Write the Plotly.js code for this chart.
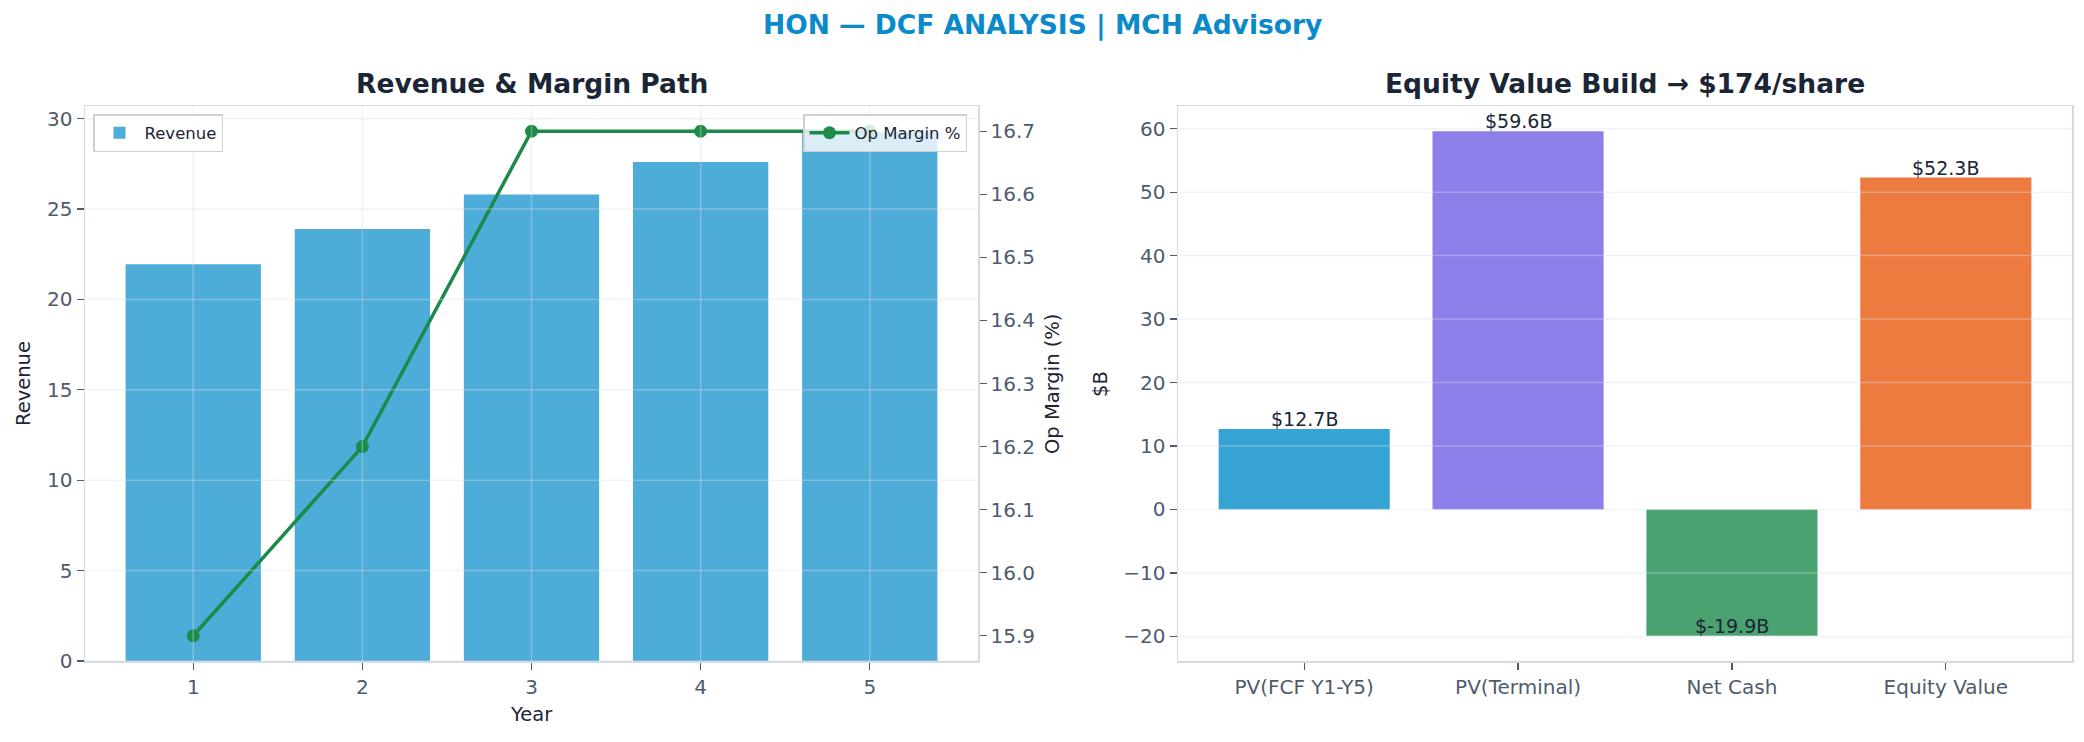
<!DOCTYPE html>
<html>
<head>
<meta charset="utf-8">
<script src="https://cdn.plot.ly/plotly-3.0.1.min.js"></script>
<style>
  html, body { margin: 0; padding: 0; background: #ffffff; }
  #chart { width: 2084px; height: 742px; }
</style>
</head>
<body>
<div id="chart"></div>
<script>
// revenue path (left panel)
var years = [1, 2, 3, 4, 5];
var revenue = [21.95, 23.9, 25.8, 27.6, 29.25];
var opMargin = [15.9, 16.2, 16.7, 16.7, 16.7];

// equity bridge (right panel)
var buildLabels = ['PV(FCF Y1-Y5)', 'PV(Terminal)', 'Net Cash', 'Equity Value'];
var buildValues = [12.7, 59.6, -19.9, 52.3];
var buildColors = ['#35a4d4', '#8b7fea', '#4aa270', '#ed7b40'];

var revTicks = [0, 5, 10, 15, 20, 25, 30];
var marginTicks = [15.9, 16.0, 16.1, 16.2, 16.3, 16.4, 16.5, 16.6, 16.7];
var buildTicks = [-20, -10, 0, 10, 20, 30, 40, 50, 60];

var tickColor = '#4f5b6d';
var spineColor = '#d3dbe4';
var darkText = '#1a2535';
var gridColor = 'rgba(215,222,230,0.38)';

var W = 2084, H = 742;
function px(x) { return x / W; }
function py(y) { return 1 - y / H; }

var leftDom = [px(85), px(978)];
var rightDom = [px(1178), px(2072)];
var yDom = [py(661), py(106)];

var revTrace = {
	type: 'bar',
	x: years,
	y: revenue,
	name: 'Revenue',
	width: 0.8,
	marker: { color: '#4dacd8', line: { width: 0 } },
	xaxis: 'x',
	yaxis: 'y',
	legend: 'legend'
};

var marginTrace = {
	type: 'scatter',
	mode: 'lines+markers',
	x: years,
	y: opMargin,
	name: 'Op Margin %',
	line: { color: '#1c8a4a', width: 3.5 },
	marker: { color: '#1c8a4a', size: 13 },
	xaxis: 'x',
	yaxis: 'y2',
	legend: 'legend2'
};

var buildTrace = {
	type: 'bar',
	x: buildLabels.map(function (d, i) { return i; }),
	y: buildValues,
	width: 0.8,
	marker: { color: buildColors, line: { width: 0 } },
	xaxis: 'x2',
	yaxis: 'y3',
	showlegend: false
};

var tickFont = { family: 'DejaVu Sans', size: 20, color: tickColor };

var commonAxis = {
	showline: true,
	linecolor: spineColor,
	linewidth: 1.5,
	mirror: true,
	ticks: 'outside',
	ticklen: 7,
	tickwidth: 1.3,
	tickcolor: tickColor,
	showgrid: false,
	zeroline: false,
	tickfont: tickFont,
	fixedrange: true
};

function axis(extra) {
	return Object.assign({}, commonAxis, extra);
}

// grid lines drawn over the bars, like the reference
var shapes = [];
years.forEach(function (v) {
	shapes.push({ type: 'line', xref: 'x', yref: 'y domain', x0: v, x1: v, y0: 0, y1: 1,
		line: { color: gridColor, width: 1.5 }, layer: 'above' });
});
revTicks.forEach(function (v) {
	shapes.push({ type: 'line', xref: 'x domain', yref: 'y', x0: 0, x1: 1, y0: v, y1: v,
		line: { color: gridColor, width: 1.5 }, layer: 'above' });
});
buildTicks.forEach(function (v) {
	shapes.push({ type: 'line', xref: 'x2 domain', yref: 'y3', x0: 0, x1: 1, y0: v, y1: v,
		line: { color: gridColor, width: 1.5 }, layer: 'above' });
});

var annotations = [
	{ text: '<b>HON — DCF ANALYSIS | MCH Advisory</b>', xref: 'paper', yref: 'paper',
		x: 0.5, y: py(25), xanchor: 'center', yanchor: 'middle', showarrow: false,
		font: { family: 'DejaVu Sans', size: 26.5, color: '#0b8ac9' } },
	{ text: '<b>Revenue & Margin Path</b>', xref: 'paper', yref: 'paper',
		x: (leftDom[0] + leftDom[1]) / 2, y: py(83), xanchor: 'center', yanchor: 'middle', showarrow: false,
		font: { family: 'DejaVu Sans', size: 26.5, color: darkText } },
	{ text: '<b>Equity Value Build → $174/share</b>', xref: 'paper', yref: 'paper',
		x: (rightDom[0] + rightDom[1]) / 2, y: py(83), xanchor: 'center', yanchor: 'middle', showarrow: false,
		font: { family: 'DejaVu Sans', size: 26.5, color: darkText } },
	{ text: 'Year', xref: 'paper', yref: 'paper', x: (leftDom[0] + leftDom[1]) / 2, y: py(714),
		xanchor: 'center', yanchor: 'middle', showarrow: false,
		font: { family: 'DejaVu Sans', size: 19.5, color: darkText } },
	{ text: 'Revenue', xref: 'paper', yref: 'paper', x: px(23), y: py(384), textangle: -90,
		xanchor: 'center', yanchor: 'middle', showarrow: false,
		font: { family: 'DejaVu Sans', size: 19.5, color: darkText } },
	{ text: 'Op Margin (%)', xref: 'paper', yref: 'paper', x: px(1052), y: py(384), textangle: -90,
		xanchor: 'center', yanchor: 'middle', showarrow: false,
		font: { family: 'DejaVu Sans', size: 19.5, color: darkText } },
	{ text: '$B', xref: 'paper', yref: 'paper', x: px(1100), y: py(384), textangle: -90,
		xanchor: 'center', yanchor: 'middle', showarrow: false,
		font: { family: 'DejaVu Sans', size: 19.5, color: darkText } }
];

buildValues.forEach(function (v, i) {
	annotations.push({
		text: '$' + v.toFixed(1) + 'B', xref: 'x2', yref: 'y3', x: i, y: v,
		xanchor: 'center', yanchor: 'bottom', showarrow: false, yshift: -3,
		font: { family: 'DejaVu Sans', size: 19, color: darkText }
	});
});

var legendStyle = {
	bgcolor: 'rgba(255,255,255,0.8)',
	bordercolor: '#cfcfcf',
	borderwidth: 1.5,
	font: { family: 'DejaVu Sans', size: 16.5, color: darkText },
	xref: 'paper',
	yref: 'paper',
	yanchor: 'top',
	itemwidth: 40,
	tracegroupgap: 0
};

var layout = {
	width: W,
	height: H,
	margin: { l: 0, r: 0, t: 0, b: 0 },
	paper_bgcolor: '#ffffff',
	plot_bgcolor: '#ffffff',
	bargap: 0.2,
	hovermode: false,
	font: { family: 'DejaVu Sans', color: tickColor },
	xaxis: axis({
		domain: leftDom,
		range: [0.36, 5.64],
		tickmode: 'array',
		tickvals: years,
		ticktext: years.map(String),
		anchor: 'y'
	}),
	yaxis: axis({
		domain: yDom,
		range: [0, 30.7],
		tickmode: 'array',
		tickvals: revTicks,
		anchor: 'x'
	}),
	yaxis2: axis({
		overlaying: 'y',
		side: 'right',
		range: [15.86, 16.74],
		tickmode: 'array',
		tickvals: marginTicks,
		ticktext: marginTicks.map(function (v) { return v.toFixed(1); }),
		anchor: 'x',
		mirror: false
	}),
	xaxis2: axis({
		domain: rightDom,
		range: [-0.59, 3.59],
		tickmode: 'array',
		tickvals: buildLabels.map(function (d, i) { return i; }),
		ticktext: buildLabels,
		anchor: 'y3'
	}),
	yaxis3: axis({
		domain: yDom,
		range: [-23.875, 63.575],
		tickmode: 'array',
		tickvals: buildTicks,
		anchor: 'x2'
	}),
	legend: Object.assign({}, legendStyle, { x: px(93), y: py(114), xanchor: 'left' }),
	legend2: Object.assign({}, legendStyle, { x: px(967), y: py(114), xanchor: 'right' }),
	shapes: shapes,
	annotations: annotations,
	showlegend: true
};

Plotly.newPlot('chart', [revTrace, marginTrace, buildTrace], layout, { displayModeBar: false, staticPlot: true });
</script>
</body>
</html>
